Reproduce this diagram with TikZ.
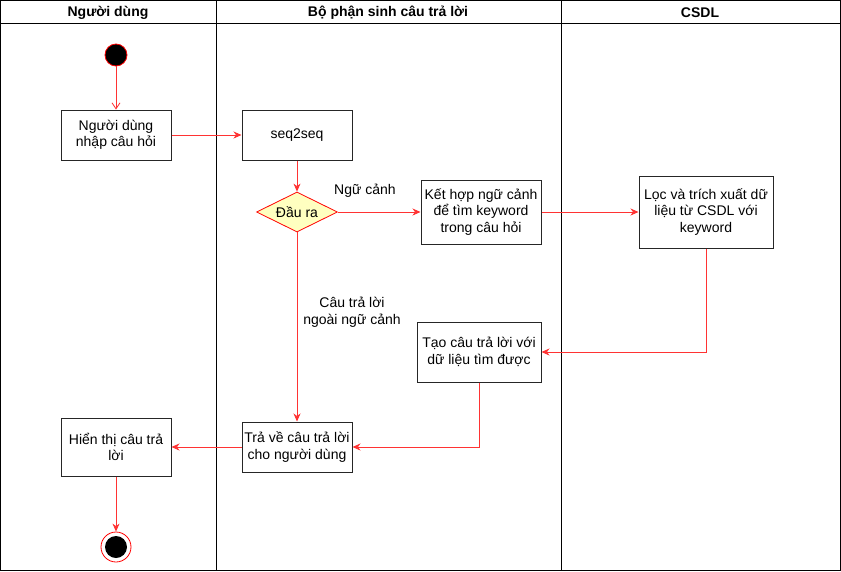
\documentclass[tikz,border=0pt]{standalone}
\usepackage{fontspec}
\setmainfont{Liberation Sans}
\usetikzlibrary{shapes.geometric,arrows.meta}
\definecolor{arr}{HTML}{FF3333}
\definecolor{dfill}{HTML}{FFFFC0}
\begin{document}
\begin{tikzpicture}[x=1pt,y=-1pt,
  act/.style={draw=black!85,line width=1pt,fill=white,minimum width=110pt,minimum height=50pt,align=center,font=\fontsize{14}{16.5}\selectfont,inner sep=1pt},
  flow/.style={draw=arr,line width=0.8pt,-{Stealth[length=8pt,width=7pt,inset=2.5pt]}},
  lbl/.style={font=\fontsize{14}{16.5}\selectfont,align=center},
  hdr/.style={font=\bfseries\fontsize{14}{16.5}\selectfont}]
\useasboundingbox (0,0) rectangle (841,571);
% lanes
\draw[line width=1pt] (0.5,0.5) rectangle (840.5,570.5);
\draw[line width=1pt] (0.5,23) -- (840.5,23);
\draw[line width=1pt] (216,0.5) -- (216,570.5);
\draw[line width=1pt] (561,0.5) -- (561,570.5);
\node[hdr] (h1) at (108,12.5) {Người dùng};
\node[hdr] (h2) at (388,12.5) {Bộ phận sinh câu trả lời};
\node[hdr] (h3) at (700,12.5) {CSDL};
% nodes
\node[circle,fill=black,draw=red,line width=0.8pt,minimum size=22pt,inner sep=0] (start) at (116,55) {};
\node[act] (b1) at (116,135) {Người dùng\\nhập câu hỏi};
\node[act] (seq) at (297,135) {seq2seq};
\node[diamond,draw=red,fill=dfill,line width=0.8pt,minimum width=81pt,minimum height=40pt,aspect=2,inner sep=0,font=\fontsize{14}{16.5}\selectfont] (dec) at (297,212) {Đầu ra};
\node[act,minimum width=120pt,minimum height=64pt] (kh) at (481,212) {Kết hợp ngữ cảnh\\để tìm keyword\\trong câu hỏi};
\node[act,minimum width=134pt,minimum height=72pt] (loc) at (706,212) {Lọc và trích xuất dữ\\liệu từ CSDL với\\keyword};
\node[act,minimum width=124pt,minimum height=60pt] (tao) at (479,352) {Tạo câu trả lời với\\dữ liệu tìm được};
\node[act] (tra) at (297,447) {Trả về câu trả lời\\cho người dùng};
\node[act,minimum height=58pt] (ht) at (116,447) {Hiển thị câu trả\\lời};
\node[circle,draw=red,line width=0.8pt,fill=white,minimum size=30pt,inner sep=0] (end) at (116,547) {};
\node[circle,fill=black,minimum size=22pt,inner sep=0] (endin) at (116,547) {};
% labels
\node[lbl] (l1) at (365,191) {Ngữ cảnh};
\node[lbl] (l2) at (352,312) {Câu trả lời\\ngoài ngữ cảnh};
% connectors
\draw[draw=arr,line width=0.8pt,-{Straight Barb[length=6pt,width=8pt]}] (start) -- (b1);
\draw[flow] (b1) -- (seq);
\draw[flow] (seq) -- (dec);
\draw[flow] (dec) -- (kh);
\draw[flow] (kh) -- (loc);
\draw[flow] (dec) -- (tra);
\draw[flow] (loc.south) |- (tao.east);
\draw[flow] (tao.south) |- (tra.east);
\draw[flow] (tra) -- (ht);
\draw[flow] (ht) -- (end);
\end{tikzpicture}
\end{document}
